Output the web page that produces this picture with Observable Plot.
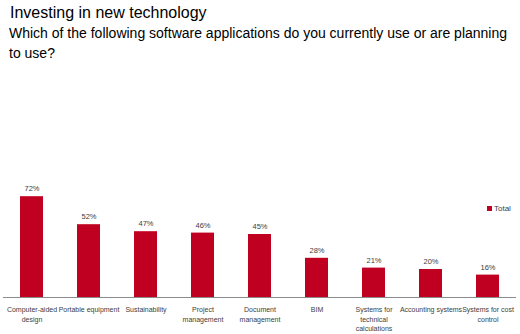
<!DOCTYPE html>
<html><head><meta charset="utf-8">
<script src="https://cdn.jsdelivr.net/npm/d3@7"></script>
<script src="https://cdn.jsdelivr.net/npm/@observablehq/plot@0.6"></script>
<style>
body{margin:0;background:#fff;font-family:"Liberation Sans",Arial,sans-serif;}
#wrap{position:relative;width:520px;height:334px;overflow:hidden;}
#title{font-size:16px;line-height:20px;padding:3px 0 0 10px;height:20px;color:#000;}
#sub{font-size:14px;line-height:20px;padding-left:9px;height:39px;color:#000;white-space:nowrap;}
#legend{position:absolute;left:487px;top:204px;font-size:8px;color:#404040;display:flex;align-items:center;}
#legend span.sw{display:inline-block;width:5px;height:5px;background:#C00020;margin-right:2px;}
</style></head>
<body><div id="wrap">
<div id="title">Investing in new technology</div>
<div id="sub">Which of the following software applications do you currently use or are planning<br>to use?</div>
<div id="chart"></div>
<div id="legend"><span class="sw"></span><span>Total</span></div>
</div>
<script>
const categories = ["Computer-aided\ndesign","Portable equipment","Sustainability","Project\nmanagement","Document\nmanagement","BIM","Systems for\ntechnical\ncalculations","Accounting systems","Systems for cost\ncontrol"];
const totals = [72,52,47,46,45,28,21,20,16];
const data = categories.map((c,i)=>({category:c, value:totals[i]}));
const chart = Plot.plot({
  width:520, height:272,
  marginLeft:3, marginRight:4, marginTop:95, marginBottom:37,
  style:{fontFamily:"Liberation Sans, Arial, sans-serif", fontSize:"7px", color:"#404040", background:"#fff"},
  x:{domain:categories, paddingInner:0.6, paddingOuter:0.3, label:null},
  y:{domain:[0,100], axis:null},
  marks:[
    Plot.barY(data,{x:"category", y:"value", fill:"#C00020"}),
    Plot.ruleY([0],{stroke:"#8c8c8c", strokeWidth:1}),
    Plot.text(data,{x:"category", y:"value", text:d=>d.value+"%", dy:-8, fill:"#404040", fontSize:7.5}),
    Plot.axisX({tickSize:0, tickPadding:8, lineHeight:1.35, fill:"#404040", fontSize:7, label:null})
  ]
});
document.getElementById("chart").appendChild(chart);
</script>
</body></html>
